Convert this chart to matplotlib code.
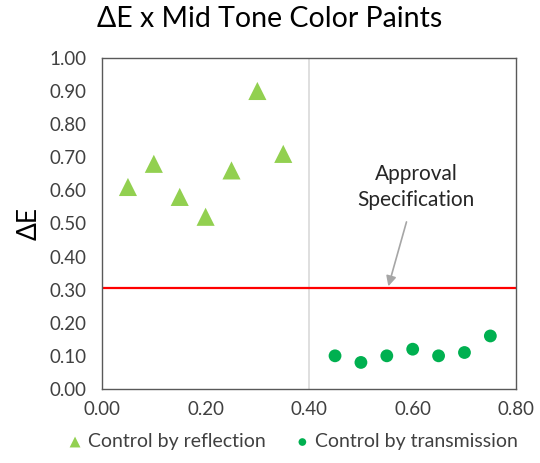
import matplotlib
matplotlib.use("Agg")
import matplotlib.pyplot as plt

plt.rcParams['font.family'] = ['Lato', 'DejaVu Sans']

# Control by reflection
refl_x = [0.05, 0.10, 0.15, 0.20, 0.25, 0.30, 0.35]
refl_y = [0.61, 0.68, 0.58, 0.52, 0.66, 0.90, 0.71]

# Control by transmission
trans_x = [0.45, 0.50, 0.55, 0.60, 0.65, 0.70, 0.75]
trans_y = [0.10, 0.08, 0.10, 0.12, 0.10, 0.11, 0.16]

spec_limit = 0.305
divider_x = 0.40

x_ticks = [0.0, 0.2, 0.4, 0.6, 0.8]
y_ticks = [0.0, 0.1, 0.2, 0.3, 0.4, 0.5, 0.6, 0.7, 0.8, 0.9, 1.0]

fig = plt.figure(figsize=(5.4, 4.63), dpi=100)
ax = fig.add_axes([0.189, 0.160, 0.767, 0.715])

ax.axvline(divider_x, color='#d9d9d9', lw=1.2, zorder=1)
ax.axhline(spec_limit, color='#ff0000', lw=1.6, zorder=2)

ax.scatter(refl_x, refl_y, marker='^', s=170, color='#92d050', edgecolors='none',
           label='Control by reflection', zorder=3)
ax.scatter(trans_x, trans_y, marker='o', s=85, color='#00b050', edgecolors='none',
           label='Control by transmission', zorder=3)

ax.annotate('Approval\nSpecification', xy=(0.553, 0.31), xytext=(0.607, 0.61),
            ha='center', va='center', fontsize=15, color='#262626', linespacing=1.35,
            arrowprops=dict(arrowstyle='-|>', color='#a6a6a6', lw=1.2,
                            shrinkA=7, shrinkB=0, mutation_scale=15))

ax.set_xlim(0, 0.8)
ax.set_ylim(0, 1.0)
ax.set_xticks(x_ticks)
ax.set_yticks(y_ticks)
ax.set_xticklabels([f'{v:.2f}' for v in x_ticks])
ax.set_yticklabels([f'{v:.2f}' for v in y_ticks])
ax.tick_params(length=0, labelsize=13.5, colors='#404040')
ax.tick_params(axis='y', pad=11)
ax.tick_params(axis='x', pad=9)
for sp in ax.spines.values():
    sp.set_color('#595959')
    sp.set_linewidth(1.0)

ax.set_ylabel('ΔE', fontsize=19, color='#000000', labelpad=6)
fig.text(0.5, 0.958, 'ΔE x Mid Tone Color Paints', ha='center', va='center',
         fontsize=20.5, color='#000000')

fig.legend(loc='lower center', bbox_to_anchor=(0.540, -0.01), ncol=2, frameon=False,
           fontsize=14, handletextpad=0.15, handlelength=1.0, columnspacing=1.4,
           markerscale=0.6, labelcolor='#404040')

fig.savefig('out.png', dpi=100)
